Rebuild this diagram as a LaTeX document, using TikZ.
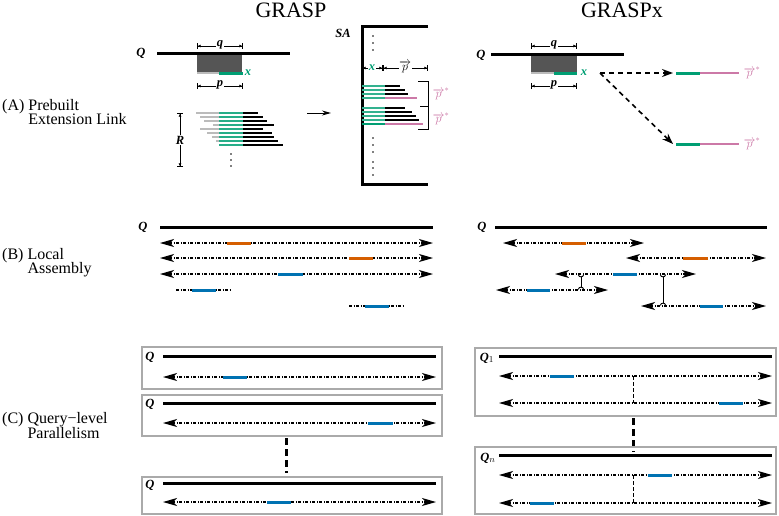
\documentclass[tikz,border=0pt]{standalone}
\usepackage{fontspec}
\setmainfont{Liberation Serif}
\usetikzlibrary{arrows.meta,calc}
\definecolor{cgreen}{HTML}{009E73}
\definecolor{corange}{HTML}{D55E00}
\definecolor{cblue}{HTML}{0072B2}
\definecolor{cpink}{HTML}{CC79A7}
\definecolor{dgray}{HTML}{555555}
\definecolor{lgray}{HTML}{BBBBBB}
\definecolor{bgray}{HTML}{AAAAAA}
\begin{document}
\begin{tikzpicture}[x=1pt,y=-1pt,
  qline/.style={line width=3pt},
  ddline/.style={line width=1.2pt,dash pattern=on 3pt off 1.5pt on 1pt off 1.5pt},
  ddarrow/.style={ddline,{Stealth[length=14pt,width=8pt,inset=4pt]}-{Stealth[length=14pt,width=8pt,inset=4pt]}},
  seg/.style={line width=3pt},
  readl/.style={line width=2.2pt},
  dimline/.style={line width=0.6pt,{Bar[width=6pt]Latex[length=3pt,width=3pt]}-{Latex[length=3pt,width=3pt]Bar[width=6pt]}},
  lbl/.style={font=\fontsize{16}{17}\selectfont,inner sep=0pt,anchor=base west},
  ttl/.style={font=\fontsize{22}{24}\selectfont,inner sep=0pt,anchor=base},
  sym/.style={font=\fontsize{12.5}{13}\selectfont\bfseries\itshape,inner sep=0.8pt},
  dimlbl/.style={sym,fill=white,inner sep=1pt},
  vecl/.style={text=cpink,font=\fontsize{12}{13}\selectfont,inner sep=0pt},
  panel/.style={draw=bgray,line width=1.5pt},
  dasharrow/.style={line width=1.6pt,dash pattern=on 5pt off 4pt,-{Stealth[length=11pt,width=8pt]}},
  bigdash/.style={line width=3pt,dash pattern=on 7pt off 4pt},
  thindash/.style={line width=0.8pt,dash pattern=on 4pt off 2pt}
]
\useasboundingbox (0,0) rectangle (779,515);

% ---------- titles ----------
\node[ttl] (t1) at (291,17) {GRASP};
\node[ttl] (t2) at (622,17) {GRASPx};

% ---------- left labels ----------
\node[lbl] (la1) at (2,110) {(A) Prebuilt};
\node[lbl] (la2) at (2,124) {\hphantom{(A) }Extension Link};
\node[lbl] (lb1) at (2,259) {(B) Local};
\node[lbl] (lb2) at (2,273) {\hphantom{(B) }Assembly};
\node[lbl] (lc1) at (2,423) {(C) Query\textminus level};
\node[lbl] (lc2) at (2,438) {\hphantom{(C) }Parallelism};

% ================= (A) GRASP =================
\node[sym] (qa) at (141,53) {Q};
\draw[qline] (157,53) -- (290,53);
\fill[dgray] (197,54.5) rectangle (242,72);
\draw[readl,lgray] (197,73) -- (219,73);
\draw[seg,cgreen] (219,73) -- (243,73);
\node[sym,text=cgreen] (xa) at (248,73) {x};
\draw[dimline] (197,46) -- (243,46);
\node[dimlbl] (qda) at (220,45) {q};
\draw[dimline] (197,86) -- (243,86);
\node[dimlbl] (pda) at (220,85) {p};

\foreach \y/\gs/\be in {113/196/258,117/200/263,121/204/267,125/213/274,129/200/263,133/207/272,137/212/274,141/216/278,145/219/283}{
  \draw[readl,lgray] (\gs,\y) -- (219,\y);
  \draw[readl,cgreen!85] (219,\y) -- (243,\y);
  \draw[readl] (243,\y) -- (\be,\y);
}
\draw[dimline] (180,113) -- (180,167);
\node[dimlbl] (rl) at (180,140) {R};
\foreach \y in {154,160,166} \fill (231,\y) circle (0.9);

\coordinate (arS) at (307,113);
\coordinate (arE) at (331,113);
\draw[line width=1pt,-{Stealth[length=9pt,width=5pt]}] (arS) -- (arE);

% SA
\draw[line width=3pt] (428,26) -- (362,26) -- (362,184) -- (428,184);
\node[sym] (sa) at (343,33) {SA};
\foreach \y in {36,43,50,138,145,152,162,168,175} \fill (373,\y) circle (0.9);
\draw[dimline] (362,68) -- (383,68);
\node[sym,text=cgreen,fill=white,inner sep=1pt] (xsa) at (372,68) {x};
\draw[dimline] (383,68) -- (428,68);
\node[fill=white,inner sep=0.5pt,font=\fontsize{12}{13}\selectfont] (psa) at (405,67) {$\overrightarrow{p}$};

\foreach \y/\be in {86/400,90/405,94/408}{
  \draw[readl,cgreen!80] (362,\y) -- (385,\y);
  \draw[readl] (385,\y) -- (\be,\y);
}
\draw[readl,cgreen!80] (362,98) -- (385,98);
\draw[readl,cpink] (385,98) -- (417,98);
\foreach \y/\be in {108/405,112/412,116/416,120/419}{
  \draw[readl,cgreen!80] (362,\y) -- (385,\y);
  \draw[readl] (385,\y) -- (\be,\y);
}
\draw[readl,cgreen] (362,124) -- (385,124);
\draw[readl,cpink] (385,124) -- (423,124);
\draw[line width=0.8pt] (418,81) -- (428,81) -- (428,129) -- (418,129);
\draw[line width=0.8pt] (420,106) -- (428,106);
\node[vecl] (ps1) at (441,94) {$\overrightarrow{p}^{*}$};
\node[vecl] (ps2) at (441,119) {$\overrightarrow{p}^{*}$};

% ================= (A) GRASPx =================
\node[sym] (qax) at (481,55) {Q};
\draw[qline] (491,54) -- (624,54);
\fill[dgray] (531,55.5) rectangle (577,72);
\draw[readl,lgray] (531,73) -- (554,73);
\draw[seg,cgreen] (554,73) -- (577,73);
\node[sym,text=cgreen] (xax) at (584,73) {x};
\draw[dimline] (531,46) -- (577,46);
\node[dimlbl] (qdx) at (554,45) {q};
\draw[dimline] (531,86) -- (577,86);
\node[dimlbl] (pdx) at (554,85) {p};

\coordinate (xs) at (600,73);
\coordinate (r1) at (673,73);
\coordinate (r2) at (673,144);
\draw[dasharrow] (xs) -- (r1);
\draw[dasharrow] (xs) -- (r2);
\foreach \y/\n in {73/a,144/b}{
  \draw[seg,cgreen] (676,\y) -- (700,\y);
  \draw[line width=1.2pt,cpink] (700,\y) -- (739,\y);
  \node[vecl] (pv\n) at (752,\y) {$\overrightarrow{p}^{*}$};
}

% ================= (B) GRASP =================
\node[sym] (qb) at (143,227) {Q};
\draw[qline] (160,227) -- (433,227);
\draw[ddarrow] (160,243) -- (433,243);
\draw[seg,corange] (227,243) -- (251,243);
\draw[ddarrow] (160,258) -- (433,258);
\draw[seg,corange] (349,258) -- (373,258);
\draw[ddarrow] (160,274) -- (433,274);
\draw[seg,cblue] (278,274) -- (303,274);
\draw[ddline] (176,290) -- (232,290);
\draw[seg,cblue] (192,290) -- (216,290);
\draw[ddline] (349,306) -- (405,306);
\draw[seg,cblue] (365,306) -- (389,306);

% ================= (B) GRASPx =================
\node[sym] (qbx) at (482,227) {Q};
\draw[qline] (495,227) -- (767,227);
\draw[ddarrow] (503,243) -- (644,243);
\draw[seg,corange] (562,243) -- (586,243);
\draw[ddarrow] (626,258) -- (766,258);
\draw[seg,corange] (683,258) -- (708,258);
\draw[ddarrow] (555,274) -- (696,274);
\draw[seg,cblue] (613,274) -- (637,274);
\draw[ddarrow] (496,290) -- (608,290);
\draw[seg,cblue] (527,290) -- (550,290);
\draw[ddarrow] (641,306) -- (766,306);
\draw[seg,cblue] (700,306) -- (723,306);

\coordinate (c1t) at (581,274);
\coordinate (c1b) at (581,290);
\coordinate (c2t) at (663,274);
\coordinate (c2b) at (663,306);
\foreach \t/\b in {c1t/c1b,c2t/c2b}{
  \draw[line width=0.9pt] ($(\t)+(0,3)$) -- ($(\b)+(0,-3)$);
  \draw[line width=0.9pt] ($(\t)+(-2.6,0.6)$) .. controls ($(\t)+(-2.6,3.6)$) and ($(\t)+(2.6,3.6)$) .. ($(\t)+(2.6,0.6)$);
  \draw[line width=0.9pt] ($(\b)+(-2.6,-0.6)$) .. controls ($(\b)+(-2.6,-3.6)$) and ($(\b)+(2.6,-3.6)$) .. ($(\b)+(2.6,-0.6)$);
}

% ================= (C) GRASP =================
\draw[panel] (142,347) rectangle (442,389);
\node[sym] (qc1) at (150,357) {Q};
\draw[qline] (163,356) -- (436,356);
\draw[ddarrow] (163,377) -- (436,377);
\draw[seg,cblue] (223,377) -- (247,377);

\draw[panel] (142,395) rectangle (442,436);
\node[sym] (qc2) at (150,404) {Q};
\draw[qline] (163,403) -- (436,403);
\draw[ddarrow] (163,423) -- (436,423);
\draw[seg,cblue] (368,423) -- (393,423);

\coordinate (vd1) at (286,438);
\coordinate (vd2) at (286,473);
\draw[bigdash] (vd1) -- (vd2);

\draw[panel] (142,477) rectangle (442,514);
\node[sym] (qc3) at (150,485) {Q};
\draw[qline] (163,483) -- (436,483);
\draw[ddarrow] (163,502) -- (436,502);
\draw[seg,cblue] (267,502) -- (291,502);

% ================= (C) GRASPx =================
\draw[panel] (475,348) rectangle (776,416);
\node[sym] (qx1) at (487,358) {Q$_{1}$};
\draw[qline] (499,356) -- (772,356);
\draw[ddarrow] (499,376) -- (772,376);
\draw[seg,cblue] (550,376) -- (574,376);
\draw[ddarrow] (499,403) -- (772,403);
\draw[seg,cblue] (719,403) -- (743,403);
\coordinate (d1t) at (633,376);
\coordinate (d1b) at (633,403);
\draw[thindash] (d1t) -- (d1b);

\coordinate (vx1) at (633,418);
\coordinate (vx2) at (633,452);
\draw[bigdash] (vx1) -- (vx2);

\draw[panel] (475,447) rectangle (776,514);
\node[sym] (qxn) at (488,458) {Q$_{n}$};
\draw[qline] (499,455) -- (772,455);
\draw[ddarrow] (499,475) -- (772,475);
\draw[seg,cblue] (648,475) -- (672,475);
\draw[ddarrow] (499,503) -- (772,503);
\draw[seg,cblue] (530,503) -- (554,503);
\coordinate (d2t) at (633,475);
\coordinate (d2b) at (633,503);
\draw[thindash] (d2t) -- (d2b);
\end{tikzpicture}
\end{document}
